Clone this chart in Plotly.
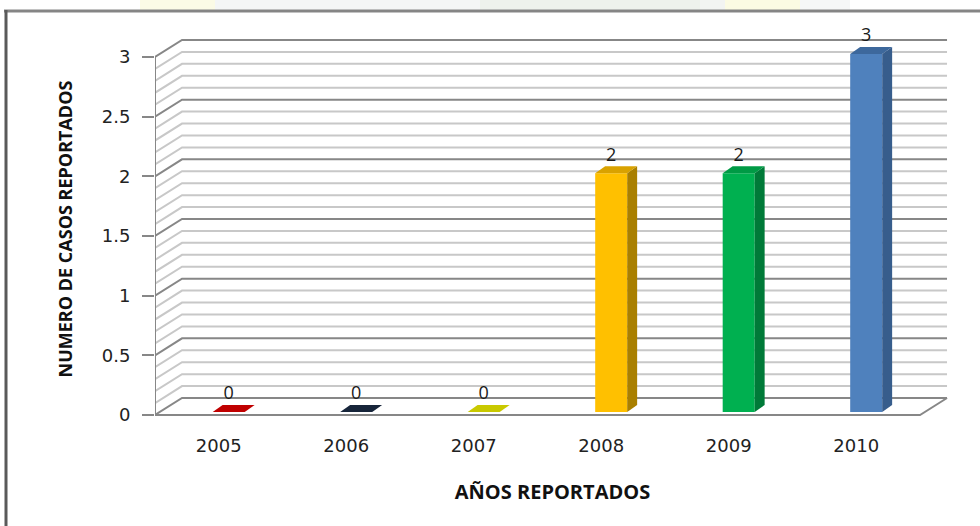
import plotly.graph_objects as go

# ---- data ----
years = ["2005", "2006", "2007", "2008", "2009", "2010"]
cases = [0, 0, 0, 2, 2, 3]
front_colors = ["#C00000", "#1B2A40", "#C9C900", "#FFC000", "#00B050", "#4F81BD"]
side_colors = ["#8E0000", "#0E1726", "#9A9A00", "#A97F00", "#007A38", "#375D8C"]
top_colors = ["#C00000", "#17253A", "#C9C900", "#D9A200", "#009A45", "#3D689C"]
y_ticks = [0, 0.5, 1, 1.5, 2, 2.5, 3]
y_tick_text = ["0", "0.5", "1", "1.5", "2", "2.5", "3"]

# ---- 3D geometry (in axis units) ----
DX, DY = 0.212, 0.1425      # depth of the chart box
OX, OY = 0.078, 0.025       # bar front offset inside the depth
W = 0.251                   # bar width
BDX, BDY = 0.078, 0.059     # bar depth

X0, X1 = -0.5, 5.5
YMAX = 3.0
MAJOR = "#878787"
MINOR = "#C8C8C8"

fig = go.Figure()

# gridlines (back wall + left wall diagonals) on the base axes
def grid_trace(vals, color):
    xs, ys = [], []
    for v in vals:
        xs += [X0, X0 + DX, X1 + DX, None]
        ys += [v, v + DY, v + DY, None]
    return go.Scatter(x=xs, y=ys, mode="lines", line=dict(color=color, width=2),
                      hoverinfo="skip", showlegend=False, cliponaxis=False)

steps = [round(i * 0.1, 1) for i in range(31)]
minor_vals = [v for v in steps if round(v * 2) != v * 2]
major_vals = [v for v in steps if round(v * 2) == v * 2]
fig.add_trace(grid_trace(minor_vals, MINOR))
fig.add_trace(grid_trace(major_vals, MAJOR))

# floor front edge, right floor edge, vertical axis line
fig.add_trace(go.Scatter(
    x=[X0, X1, X1 + DX, None, X0, X0],
    y=[0, 0, DY, None, 0, YMAX],
    mode="lines", line=dict(color=MAJOR, width=2),
    hoverinfo="skip", showlegend=False, cliponaxis=False))

# bars on overlaid axes so they sit above the gridlines
xpos = [i + OX for i in range(len(years))]
fig.add_trace(go.Bar(
    x=xpos, y=cases, base=[OY] * len(cases), width=W,
    marker=dict(color=front_colors, line=dict(width=0)),
    showlegend=False, hoverinfo="skip", xaxis="x2", yaxis="y2"))

for i, v in enumerate(cases):
    xl = xpos[i] - W / 2
    xr = xpos[i] + W / 2
    yb = OY
    yt = v + OY
    if v > 0:
        fig.add_trace(go.Scatter(
            x=[xr, xr + BDX, xr + BDX, xr, xr],
            y=[yb, yb + BDY, yt + BDY, yt, yb],
            fill="toself", fillcolor=side_colors[i], mode="lines",
            line=dict(width=0, color=side_colors[i]),
            hoverinfo="skip", showlegend=False, xaxis="x2", yaxis="y2"))
    fig.add_trace(go.Scatter(
        x=[xl, xr, xr + BDX, xl + BDX, xl],
        y=[yt, yt, yt + BDY, yt + BDY, yt],
        fill="toself", fillcolor=top_colors[i], mode="lines",
        line=dict(width=0, color=top_colors[i]),
        hoverinfo="skip", showlegend=False, xaxis="x2", yaxis="y2"))

# data labels
fig.add_trace(go.Scatter(
    x=xpos,
    y=[v + OY + BDY + 0.01 for v in cases],
    text=[str(v) for v in cases], mode="text", textposition="top center",
    textfont=dict(family="Open Sans", size=18, color="#1a1a1a"),
    hoverinfo="skip", showlegend=False, cliponaxis=False, xaxis="x2", yaxis="y2"))

# ---- layout ----
L, R, T, B = 155, 30, 38, 106
plot_w = 980 - L - R
plot_h = 526 - T - B
px_per_x = 765 / 6.0
xr_max = X0 + plot_w / px_per_x
px_per_y = 358 / 3.0
y_min = -5 / px_per_y
y_max = y_min + plot_h / px_per_y

fig.update_layout(
    width=980, height=526,
    margin=dict(l=L, r=R, t=T, b=B),
    paper_bgcolor="white", plot_bgcolor="white",
    showlegend=False, barmode="overlay",
    xaxis=dict(range=[X0, xr_max], tickvals=list(range(len(years))), ticktext=years,
               showgrid=False, zeroline=False, showline=False, ticks="",
               automargin=False, ticklabelstandoff=13,
               tickfont=dict(family="DejaVu Sans", size=18, color="#222"),
               title=dict(text="<b>AÑOS REPORTADOS</b>", standoff=29,
                          font=dict(family="Open Sans", size=20, color="#111"))),
    yaxis=dict(range=[y_min, y_max], tickvals=y_ticks, ticktext=y_tick_text,
               showgrid=False, zeroline=False, showline=False,
               ticks="outside", ticklen=12, tickwidth=2, tickcolor=MAJOR,
               automargin=False, ticklabelstandoff=8,
               tickfont=dict(family="DejaVu Sans", size=18, color="#222"),
               title=dict(text="<b>NUMERO DE CASOS REPORTADOS</b>", standoff=24,
                          font=dict(family="Open Sans", size=18, color="#111"))),
    xaxis2=dict(range=[X0, xr_max], overlaying="x", visible=False),
    yaxis2=dict(range=[y_min, y_max], overlaying="y", visible=False),
)

# picture frame and faint background strip above it
def px_x(p):
    return (p - L) / plot_w

def px_y(p):
    return (526 - B - p) / plot_h

strip = [(140, 215, "#FBFBE6"), (215, 480, "#F4F6F6"), (480, 700, "#EEF2EC"),
         (700, 725, "#F2F4F2"), (725, 800, "#FBFBE3"), (800, 850, "#F6F7F7")]
for a, b, c in strip:
    fig.add_shape(type="rect", xref="paper", yref="paper",
                  x0=px_x(a), x1=px_x(b), y0=px_y(0), y1=px_y(10),
                  fillcolor=c, line=dict(width=0), layer="below")
fig.add_shape(type="line", xref="paper", yref="paper",
              x0=px_x(4), x1=px_x(980), y0=px_y(11), y1=px_y(11),
              line=dict(color="#858585", width=3))
fig.add_shape(type="line", xref="paper", yref="paper",
              x0=px_x(6), x1=px_x(6), y0=px_y(10), y1=px_y(526),
              line=dict(color="#5a5a5a", width=3))

fig.write_html("out.html", config={"displayModeBar": False},
               post_script="document.body.style.margin='0';")
